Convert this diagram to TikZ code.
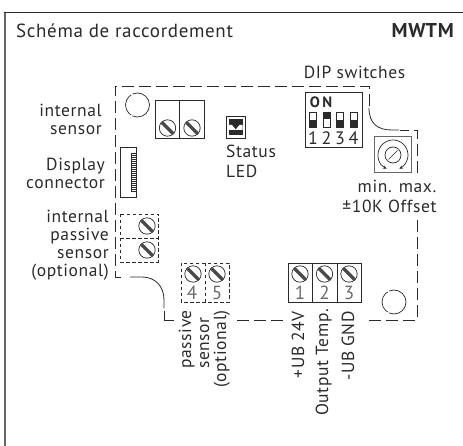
\documentclass[tikz,border=0pt]{standalone}
\usepackage{fontspec}
\setmainfont[LetterSpace=3.5]{PT Sans}
\usetikzlibrary{arrows.meta}
\definecolor{ink}{HTML}{2A2A2A}
\tikzset{
  x=1pt,y=-1pt,
  lbl/.style={inner sep=0pt,text=ink,font=\fontsize{17.5}{18}\selectfont},
  lblr/.style={lbl,align=right,anchor=east},
  rotl/.style={lbl,rotate=90,anchor=base east},
  digit/.style={inner sep=0pt,text=gray!85!black,font=\fontsize{19}{20}\selectfont},
  dipnum/.style={inner sep=0pt,text=ink,font=\fontsize{18}{20}\selectfont},
  board/.style={draw=ink,line width=0.8pt,dash pattern=on 12pt off 5pt},
  subbox/.style={draw=ink,line width=0.8pt,dash pattern=on 3.5pt off 2.5pt},
  block/.style={draw=ink,line width=0.8pt},
  holecirc/.style={draw=ink,line width=0.7pt,dash pattern=on 24pt off 1.5pt},
  pics/screw/.style={code={
    \draw[ink,line width=0.7pt] (0,0) circle[radius=8.2];
    \draw[ink!85,line width=3.2pt] (-6,-6) -- (6,6);
  }},
}
\begin{document}
\begin{tikzpicture}
\useasboundingbox (0,0) rectangle (463,446);
% frame
\draw[gray!80!black,line width=1.4pt] (5,446) -- (5,12.5);
\draw[ink,line width=0.9pt] (4.3,12.5) -- (463,12.5);
% title
\node[lbl,anchor=base west,font=\fontsize{19}{20}\selectfont] (title) at (16,38) {Schéma de raccordement};
\node[lbl,anchor=base east,font=\fontsize{20}{20}\selectfont\bfseries] (model) at (454,38) {MWTM};
% board outline
\draw[board] (237,320) -- (285,320);
\draw[board] (417,220) -- (417,320) -- (368,320);
\draw[board] (417,173) -- (417,130) -- (400,130);
\draw[block] (399,130) -- (392,130) .. controls (378,130) and (369,124) .. (369,108);
\draw[board] (369,106) -- (369,86) -- (115,86) -- (115,277) -- (126,277);
\draw[block] (130,277) -- (142,277) .. controls (155,277) and (164,286) .. (164,300) -- (164,308);
\draw[block] (164,311) -- (164,320) -- (174,320);
% mounting holes
\draw[holecirc] (137.5,105) circle[radius=12];
\draw[holecirc] (394,302) circle[radius=12];
% internal sensor block
\draw[block] (155,100) rectangle (204,138);
\draw[block] (179.5,100) -- (179.5,138);
\pic at (167.5,128) {screw};
\pic at (192,128) {screw};
% display connector
\draw[block] (120,147) rectangle (136,197);
\draw[block,line width=0.6pt] (131,153) rectangle (136,191);
\foreach \y in {155,157,...,189} \draw[ink,line width=0.6pt] (131,\y) -- (136,\y);
% status LED
\draw[block] (226.5,116.5) rectangle (245,138);
\fill[ink] (229,119.5) rectangle (242.5,135);
\fill[white] (229,125) -- (232,125) -- (235.7,129.5) -- (239.5,125) -- (242.5,125) -- (242.5,130) -- (229,130) -- cycle;
% DIP
\draw[block] (305,92) rectangle (362,147);
\node[inner sep=0pt,text=ink,font=\fontsize{15}{16}\selectfont\bfseries] (on) at (321,102.5) {O\,N};
\foreach \x/\lo in {313/1,326.5/0,340/1,353.5/1}{
  \draw[ink,line width=0.5pt] (\x-3.5,112) rectangle (\x+3.5,127);
  \ifnum\lo=1 \fill[ink] (\x-3.5,120) rectangle (\x+3.5,127);
  \else \fill[ink] (\x-3.5,112) rectangle (\x+3.5,119.5); \fi
}
\node[dipnum] (d1) at (313,138.5) {1};
\node[dipnum] (d2) at (326.5,138.5) {2};
\node[dipnum] (d3) at (340,138.5) {3};
\node[dipnum] (d4) at (353.5,138.5) {4};
% potentiometer
\draw[draw=gray!80!black,line width=1pt] (374,137) rectangle (411,173);
\draw[ink,line width=0.7pt,{Stealth[length=3.5pt,width=3.5pt]}-{Stealth[length=3.5pt,width=3.5pt]}] (393,155) ++(115:15) arc[start angle=115,end angle=425,radius=15];
\draw[ink,line width=0.7pt] (393,155) circle[radius=8];
\draw[ink,line width=0.7pt] (388.5,159.5) -- (397.5,150.5);
% passive internal
\draw[subbox] (120,214) rectangle (158,262);
\draw[subbox] (120,238) -- (158,238);
\pic at (147,226) {screw};
\pic at (147,250) {screw};
% passive 4,5
\draw[subbox] (181,263) rectangle (229,302);
\draw[subbox] (205,263) -- (205,302);
\pic at (193,274) {screw};
\pic at (217,274) {screw};
\node[digit] (t4) at (192,292.5) {4};
\node[digit] (t5) at (217,292.5) {5};
% terminal 1 2 3
\draw[block] (288,263) rectangle (361,302);
\draw[block] (312.5,263) -- (312.5,302);
\draw[block] (337,263) -- (337,302);
\pic at (300,274) {screw};
\pic at (324.5,274) {screw};
\pic at (349,274) {screw};
\node[digit] (t1) at (300,292.5) {1};
\node[digit] (t2) at (324.5,292.5) {2};
\node[digit] (t3) at (349,292.5) {3};
% labels
\node[lblr] (l1) at (102,119) {internal\\sensor};
\node[lblr] (l2) at (105,173) {Display\\connector};
\node[lblr] (l3) at (109,245.5) {internal\\passive\\sensor\\(optional)};
\node[lbl,anchor=base west] (l4) at (226,158) {Status};
\node[lbl,anchor=base west] (l5) at (226,178) {LED};
\node[lbl] (l6) at (354.5,72) {DIP switches};
\node[lbl,anchor=base] (l7) at (397,193) {min. max.};
\node[lbl,anchor=base] (l8) at (389.5,213) {±10K Offset};
\node[rotl] (p1) at (191,310) {passive};
\node[rotl] (p2) at (209,317) {sensor};
\node[rotl] (p3) at (226,310) {(optional)};
\node[rotl] (u1) at (304,311) {+UB 24V};
\node[rotl] (u2) at (328,309) {Output Temp.};
\node[rotl] (u3) at (354,311) {-UB GND};
\end{tikzpicture}
\end{document}
